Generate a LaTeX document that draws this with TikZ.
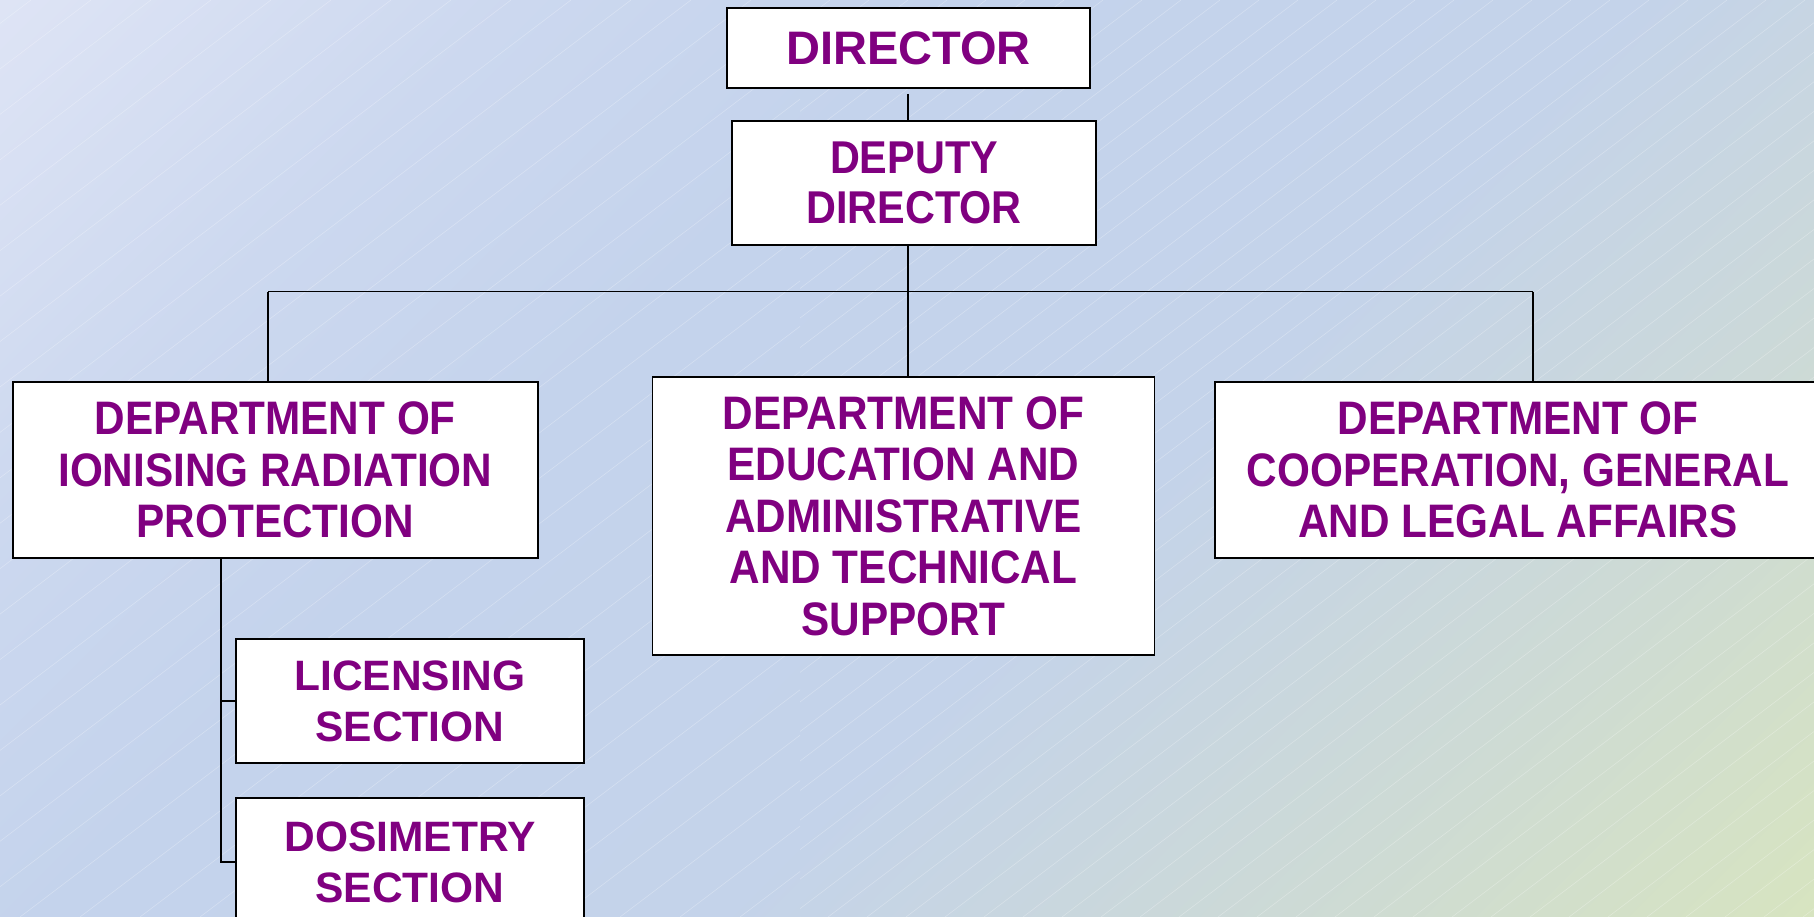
\documentclass[tikz,border=0pt]{standalone}
\usepackage{fontspec}
\setmainfont{Liberation Sans}
\newfontfamily\condfont{Liberation Sans}[FakeStretch=0.9]
\definecolor{txt}{HTML}{800080}
\definecolor{bgA}{HTML}{DEE4F5}
\definecolor{bgB}{HTML}{CCD8EF}
\definecolor{bgC}{HTML}{C4D3EC}
\definecolor{bgD}{HTML}{C4D3EA}
\definecolor{bgE}{HTML}{C8D6E0}
\definecolor{bgF}{HTML}{CEDBD3}
\definecolor{bgG}{HTML}{D7E4C0}
\pgfdeclarehorizontalshading{bgshade}{100bp}{color(0bp)=(bgA); color(14.6bp)=(bgA); color(28bp)=(bgB); color(39.4bp)=(bgC); color(57bp)=(bgD); color(64.2bp)=(bgE); color(73.4bp)=(bgF); color(85.4bp)=(bgG); color(100bp)=(bgG)}
\tikzset{
  box/.style={draw=black, line width=1.6pt, fill=white, inner sep=0pt, align=center, text=txt},
  conn/.style={draw=black, line width=1.6pt},
  hatch/.style={white, opacity=0.28, line width=0.6pt},
  topfont/.style={font=\fontsize{47}{51}\selectfont\bfseries},
  depfont/.style={font=\condfont\fontsize{46}{50}\selectfont\bfseries},
  deptfont/.style={font=\condfont\fontsize{47}{51.5}\selectfont\bfseries},
  secfont/.style={font=\fontsize{42.5}{51}\selectfont\bfseries}
}
\begin{document}
\begin{tikzpicture}[x=1pt,y=-1pt]
\useasboundingbox (0,0) rectangle (1814,917);
\clip (0,0) rectangle (1814,917);
% background
\shade[shading=bgshade, shading angle=-45] (0,0) rectangle (1814,917);
\begin{scope}
  \clip (0,0) rectangle (800,917);
  \foreach \x in {-1300,-1240,...,820} { \draw[hatch] (\x,917) -- ++(1211,-917); }
\end{scope}
\begin{scope}
  \clip (800,0) rectangle (1814,917);
  \foreach \x in {-420,-381,...,1830} { \draw[hatch] (\x,917) -- ++(1211,-917); }
\end{scope}
% nodes
\node[box, topfont, minimum width=363pt, minimum height=80pt] (dir) at (908.5,48) {DIRECTOR};
\node[box, depfont, minimum width=364pt, minimum height=124pt] (dep) at (914,183) {DEPUTY\\DIRECTOR};
\node[box, deptfont, minimum width=525pt, minimum height=176pt] (d1) at (275.3,470) {DEPARTMENT OF\\IONISING RADIATION\\PROTECTION};
\node[box, deptfont, minimum width=502pt, minimum height=278pt] (d2) at (903.5,516) {DEPARTMENT OF\\EDUCATION AND\\ADMINISTRATIVE\\AND TECHNICAL\\SUPPORT};
\node[box, deptfont, minimum width=606pt, minimum height=176pt] (d3) at (1518,470) {DEPARTMENT OF\\COOPERATION, GENERAL\\AND LEGAL AFFAIRS};
\node[box, secfont, minimum width=348pt, minimum height=124pt] (lic) at (410,701) {LICENSING\\SECTION};
\node[box, secfont, minimum width=348pt, minimum height=128pt] (dos) at (410,862) {DOSIMETRY\\SECTION};
% connectors
\coordinate (bus) at (908,291.5);
\coordinate (bl) at (268,291.5);
\coordinate (br) at (1533,291.5);
\coordinate (sv) at (221,600);
\draw[conn] ([yshift=-5pt]dir.south -| bus) -- (dep.north -| bus);
\draw[conn] (dep.south -| bus) -- (bus);
\draw[conn] (bl) -- (br);
\draw[conn] (bus) -- (bus |- d2.north);
\draw[conn] (bl) -- (bl |- d1.north);
\draw[conn] (br) -- (br |- d3.north);
\draw[conn] (sv |- d1.south) -- (sv |- dos.west) -- (dos.west);
\draw[conn] (sv |- lic.west) -- (lic.west);
\end{tikzpicture}
\end{document}
